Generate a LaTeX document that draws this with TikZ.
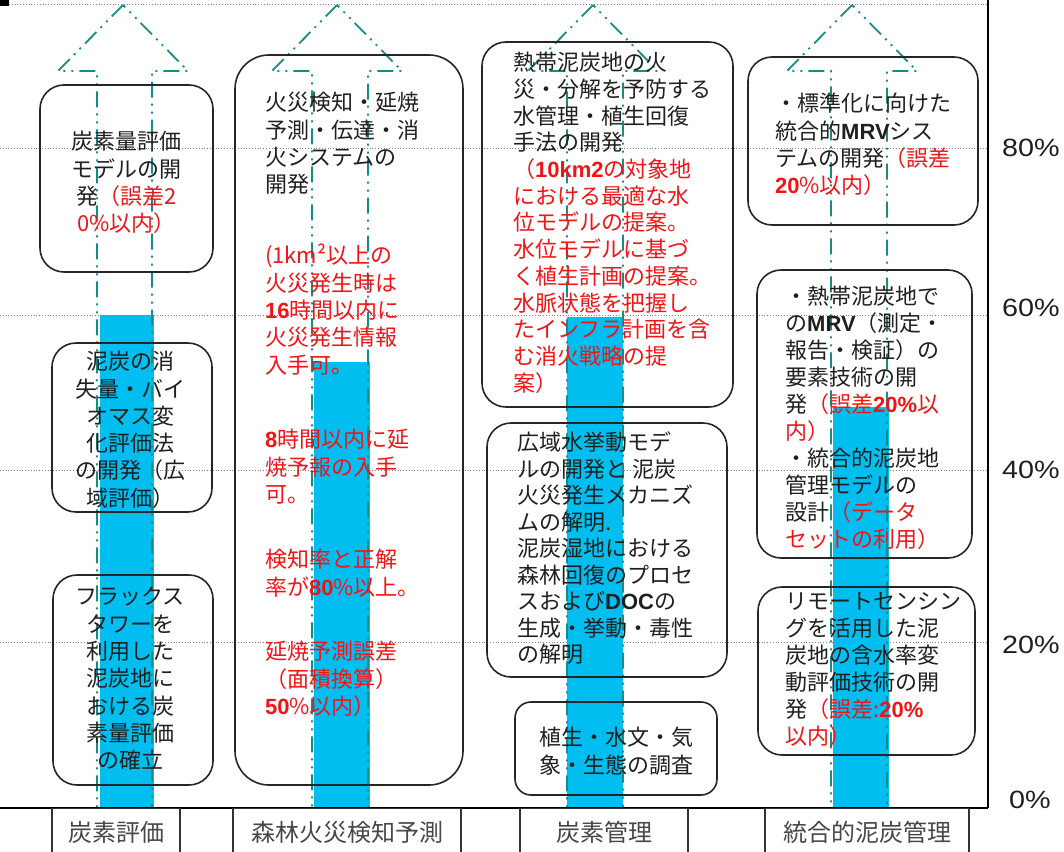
\documentclass[tikz,border=0pt]{standalone}
\usepackage{fontspec}
\setmainfont{Noto Sans CJK JP}
\newfontfamily\lat{Liberation Sans}
\newcommand\B[1]{{\lat\bfseries #1}}
\definecolor{barc}{HTML}{00BFF0}
\definecolor{tealc}{HTML}{168C84}
\definecolor{rd}{HTML}{F01414}
\newcommand\R[1]{\textcolor{rd}{#1}}
\newcommand\uparr[3]{\draw[arr] (#1,5) -- (#1-65,71) -- (#2,71) -- (#2,808) -- (#3,808) -- (#3,71) -- (#1+65,71) -- cycle;}
\begin{document}
\begin{tikzpicture}[x=1pt,y=-1pt,
  grid/.style={gray, dotted, line width=0.8pt},
  arr/.style={draw=tealc, line width=1.8pt, dash pattern=on 16pt off 6pt on 2pt off 6pt on 2pt off 6pt},
  box/.style={draw=black!85, line width=1.6pt, rounded corners=24pt, inner sep=0pt},
  txt/.style={inner sep=0pt, font=\fontsize{22}{27.3}\selectfont, align=left, anchor=north west, text=black!88},
  ctxt/.style={txt, align=center, anchor=north},
  lab/.style={draw=black!80, line width=1.2pt, anchor=north, minimum height=48pt, inner sep=0pt, fill=white, font=\fontsize{24}{28}\selectfont, text=black!72},
  pct/.style={inner sep=0pt, font=\lat\fontsize{25}{28}\selectfont, text=black!88}]
\useasboundingbox (0,0) rectangle (1064,851);
% grid
\fill (0,0) rectangle (9,6);
\draw[grid] (9,4) -- (988,4);
\foreach \yy in {148,315,470,642} \draw[grid] (0,\yy) -- (988,\yy);
% bars
\fill[barc] (100,315) rectangle (154,808);
\fill[barc] (314,362) rectangle (370,808);
\fill[barc] (567,317) rectangle (623,808);
\fill[barc] (833,407) rectangle (889,808);
% arrows
\uparr{123}{97}{152}
\uparr{337}{312}{368}
\uparr{593}{567}{623}
\uparr{852}{831}{887}
% boxes
\node[box, minimum width=173pt, minimum height=187pt] (bA) at (126.5,178.5) {};
\node[box, minimum width=160pt, minimum height=169pt] (bB) at (132,427.5) {};
\node[box, minimum width=160pt, minimum height=210pt] (bC) at (133,680) {};
\node[box, rounded corners=34pt, minimum width=228pt, minimum height=730pt] (bD) at (349,420) {};
\node[box, minimum width=251pt, minimum height=365pt] (bE) at (607.5,224.5) {};
\node[box, minimum width=240pt, minimum height=254pt] (bF) at (607,550) {};
\node[box, rounded corners=16pt, minimum width=202pt, minimum height=93pt] (bG) at (616,748.5) {};
\node[box, minimum width=230pt, minimum height=168pt] (bH) at (863,141) {};
\node[box, minimum width=215pt, minimum height=288pt] (bI) at (864.5,414) {};
\node[box, minimum width=217pt, minimum height=168pt] (bJ) at (866.5,671) {};
% texts
\node[ctxt] (tA) at (126.5,131) {炭素量評価\\モデルの開\\発\R{（誤差2}\\\R{0\%以内）}};
\node[ctxt] (tB) at (130,351) {泥炭の消\\失量・バイ\\オマス変\\化評価法\\の開発（広\\域評価）};
\node[ctxt] (tC) at (130,587) {フラックス\\タワーを\\利用した\\泥炭地に\\おける炭\\素量評価\\の確立};
\node[txt] (tD1) at (265,92) {火災検知・延焼\\予測・伝達・消\\火システムの\\開発};
\node[txt, text=rd] (tD2) at (265,244) {(1km²以上の\\火災発生時は\\\B{16}時間以内に\\火災発生情報\\入手可。};
\node[txt, text=rd] (tD3) at (265,429) {\B{8}時間以内に延\\焼予報の入手\\可。};
\node[txt, text=rd] (tD4) at (265,549) {検知率と正解\\率が\B{80}\%以上。};
\node[txt, text=rd] (tD5) at (265,641) {延焼予測誤差\\（面積換算）\\\B{50}\%以内）};
\node[txt, font=\fontsize{22}{26.7}\selectfont] (tE) at (513,52) {熱帯泥炭地の火\\災・分解を予防する\\水管理・植生回復\\手法の開発\\
\R{（\B{10km2}の対象地}\\\R{における最適な水}\\\R{位モデルの提案。}\\\R{水位モデルに基づ}\\\R{く植生計画の提案。}\\\R{水脈状態を把握し}\\\R{たインフラ計画を含}\\\R{む消火戦略の提}\\\R{案）}};
\node[txt, font=\fontsize{22}{26.5}\selectfont] (tF) at (517,432) {広域水挙動モデ\\ルの開発と 泥炭\\火災発生メカニズ\\ムの解明.\\泥炭湿地における\\森林回復のプロセ\\スおよび\B{DOC}の\\生成・挙動・毒性\\の解明};
\node[ctxt] (tG) at (616,727) {植生・水文・気\\象・生態の調査};
\node[txt] (tH) at (775,93) {・標準化に向けた\\統合的\B{MRV}シス\\テムの開発\R{（誤差}\\\R{\B{20}\%以内）}};
\node[txt, font=\fontsize{22}{27}\selectfont] (tI) at (785,286) {・熱帯泥炭地で\\の\B{MRV}（測定・\\報告・検証）の\\要素技術の開\\発\R{（誤差\B{20\%}以}\\\R{内）}\\・統合的泥炭地\\管理モデルの\\設計\R{（データ}\\\R{セットの利用）}};
\node[txt, font=\fontsize{22}{27}\selectfont] (tJ) at (785,592) {リモートセンシン\\グを活用した泥\\炭地の含水率変\\動評価技術の開\\発\R{（誤差:\B{20\%}}\\\R{以内）}};
% axes
\draw[line width=2pt] (988,0) -- (988,808);
\draw[line width=2pt] (0,808) -- (988,808);
% labels
\node[lab, minimum width=128pt] (l1) at (116,808) {炭素評価};
\node[lab, minimum width=228pt] (l2) at (347,808) {森林火災検知予測};
\node[lab, minimum width=168pt] (l3) at (604,808) {炭素管理};
\node[lab, minimum width=204pt] (l4) at (867,808) {統合的泥炭管理};
% percentages
\node[pct] (p80) at (1031,148) {\scalebox{1.15}[1]{80\%}};
\node[pct] (p60) at (1031,308) {\scalebox{1.15}[1]{60\%}};
\node[pct] (p40) at (1031,470) {\scalebox{1.15}[1]{40\%}};
\node[pct] (p20) at (1031,645) {\scalebox{1.15}[1]{20\%}};
\node[pct] (p0) at (1030,800) {\scalebox{1.15}[1]{0\%}};
\end{tikzpicture}
\end{document}
